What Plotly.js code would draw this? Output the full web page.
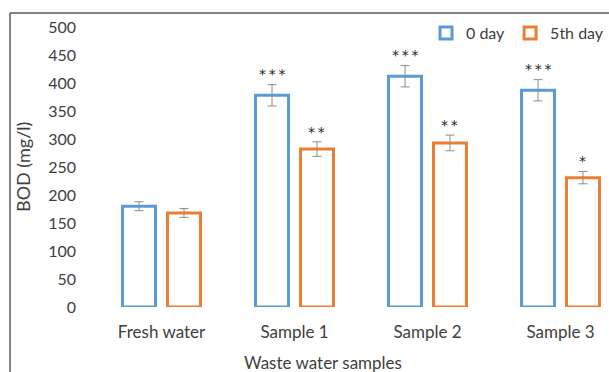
<!DOCTYPE html>
<html><head><meta charset="utf-8">
<script src="https://cdn.plot.ly/plotly-3.0.1.min.js"></script>
<style>html,body{margin:0;padding:0;background:#fff}#c{width:609px;height:372px}</style>
</head><body><div id="c"></div>
<script>
const categories = ["Fresh water", "Sample 1", "Sample 2", "Sample 3"];
const day0 = [180, 378, 412, 387];
const day0Err = [8, 19, 19, 19];
const day5 = [168, 282, 293, 231];
const day5Err = [8, 13, 14, 11];
const day0Sig = ["", "***", "***", "***"];
const day5Sig = ["", "**", "**", "*"];
const yTicks = [0, 50, 100, 150, 200, 250, 300, 350, 400, 450, 500];

const FONT = "Lato, 'Noto Sans', sans-serif";
const blue = "#5B9BD5", orange = "#ED7D31";
const idx = categories.map((_, i) => i);

const errStyle = {type: "data", visible: true, color: "#8c8c8c", thickness: 1, width: 4.5};
const traces = [
  {type: "bar", name: "0 day", x: idx, y: day0, width: 0.248, offset: -0.293,
   marker: {color: "#ffffff", line: {color: blue, width: 3}},
   error_y: Object.assign({array: day0Err}, errStyle)},
  {type: "bar", name: "5th day", x: idx, y: day5, width: 0.248, offset: 0.045,
   marker: {color: "#ffffff", line: {color: orange, width: 3}},
   error_y: Object.assign({array: day5Err}, errStyle)}
];

const sigFont = {family: "'DejaVu Sans', sans-serif", size: 14, color: "#262626"};
const stars = s => s.split("").join("\u2009");
const annotations = [];
idx.forEach(i => {
  if (day0Sig[i]) annotations.push({x: i - 0.293 + 0.124, y: day0[i] + day0Err[i], xref: "x", yref: "y",
    text: stars(day0Sig[i]), showarrow: false, yanchor: "bottom", yshift: 1, font: sigFont});
  if (day5Sig[i]) annotations.push({x: i + 0.045 + 0.124, y: day5[i] + day5Err[i], xref: "x", yref: "y",
    text: stars(day5Sig[i]), showarrow: false, yanchor: "bottom", yshift: 0, font: sigFont});
});
annotations.push({xref: "paper", yref: "paper", x: (323 - 95) / (609 - 95), y: (307 - 362) / 280,
  text: "Waste water samples", showarrow: false, xanchor: "center", yanchor: "middle",
  font: {family: FONT, size: 17, color: "#404040"}});
annotations.push({xref: "paper", yref: "paper", x: (23 - 95) / (609 - 95), y: 0.5,
  text: "BOD (mg/l)", showarrow: false, xanchor: "center", yanchor: "middle", textangle: -90,
  font: {family: FONT, size: 18, color: "#404040"}});

const layout = {
  width: 609, height: 372,
  margin: {l: 95, r: 0, t: 27, b: 65, autoexpand: false},
  paper_bgcolor: "#ffffff", plot_bgcolor: "#ffffff",
  barmode: "overlay",
  font: {family: FONT, size: 17, color: "#404040"},
  showlegend: true,
  legend: {orientation: "h", x: 1.0, y: (307 - 33) / 280, xanchor: "right", yanchor: "middle",
    font: {family: FONT, size: 16, color: "#404040"}, bgcolor: "rgba(0,0,0,0)", itemwidth: 30, tracegroupgap: 0},
  xaxis: {tickmode: "array", tickvals: idx, ticktext: categories, range: [-0.5, -0.5 + (609 - 95) / 133],
    showgrid: false, zeroline: false, showline: false, ticks: "", ticklabelstandoff: 13,
    tickfont: {family: FONT, size: 17, color: "#404040"}, fixedrange: true},
  yaxis: {range: [0, 500], tickmode: "array", tickvals: yTicks, showgrid: false, zeroline: false, showline: false,
    ticks: "", ticklabelstandoff: 18, tickfont: {family: FONT, size: 16, color: "#404040"}},
  annotations: annotations,
  shapes: [
    {type: "line", xref: "paper", yref: "paper", x0: (10 - 95) / (609 - 95), x1: (10 - 95) / (609 - 95),
     y0: (307 - 13) / 280, y1: (307 - 380) / 280, line: {color: "#595959", width: 1.5}},
    {type: "line", xref: "paper", yref: "paper", x0: (10 - 95) / (609 - 95), x1: 1.05,
     y0: (307 - 13) / 280, y1: (307 - 13) / 280, line: {color: "#595959", width: 1.5}}
  ]
};
Plotly.newPlot("c", traces, layout, {staticPlot: true, displayModeBar: false});
</script></body></html>
